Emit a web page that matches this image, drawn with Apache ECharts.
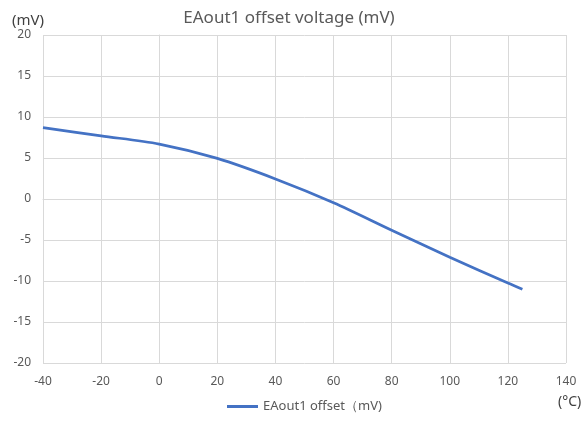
<!DOCTYPE html>
<html>
<head>
<meta charset="utf-8">
<style>
  html, body { margin: 0; padding: 0; background: #fff; }
  #chart { width: 582px; height: 421px; }
</style>
<script src="https://cdn.jsdelivr.net/npm/echarts@6/dist/echarts.min.js"></script>
</head>
<body>
<div id="chart"></div>
<script>
// Temperature (°C) and EAout1 offset voltage (mV)
const temperatures = [-40, -20, 0, 20, 40, 60, 80, 100, 120, 125];
const offsetMv = [8.7, 7.7, 6.7, 4.95, 2.45, -0.45, -3.8, -7.1, -10.25, -11.0];
const seriesName = 'EAout1 offset（mV)';

const FONT = '"Noto Sans", "Open Sans", sans-serif';
const TEXT_COLOR = '#595959';
const GRID_COLOR = '#d9d9d9';

const chart = echarts.init(document.getElementById('chart'), null, { renderer: 'canvas' });

chart.setOption({
  animation: false,
  backgroundColor: '#ffffff',
  title: [
    {
      text: 'EAout1 offset voltage (mV)',
      left: 284, top: 5, textAlign: 'center',
      textStyle: { fontFamily: FONT, fontSize: 17, fontWeight: 'normal', color: TEXT_COLOR }
    },
    {
      text: '(mV)',
      left: 7, top: 8,
      textStyle: { fontFamily: FONT, fontSize: 15, fontWeight: 'normal', color: '#404040' }
    },
    {
      text: '(°C)',
      left: 553, top: 390,
      textStyle: { fontFamily: FONT, fontSize: 14, fontWeight: 'normal', color: '#404040' }
    }
  ],
  legend: {
    bottom: 3, left: 222,
    itemWidth: 31, itemHeight: 3, itemGap: 4,
    icon: 'rect',
    textStyle: { fontFamily: FONT, fontSize: 13, color: TEXT_COLOR },
    data: [seriesName]
  },
  grid: { left: 43, right: 16, top: 35, bottom: 58, containLabel: false },
  xAxis: {
    type: 'value', min: -40, max: 140, interval: 20,
    axisLine: { show: true, lineStyle: { color: GRID_COLOR } },
    axisTick: { show: false },
    axisLabel: { color: TEXT_COLOR, fontFamily: FONT, fontSize: 12, margin: 13 },
    splitLine: { show: true, lineStyle: { color: GRID_COLOR, width: 1 } }
  },
  yAxis: {
    type: 'value', min: -20, max: 20, interval: 5,
    axisLine: { show: true, lineStyle: { color: GRID_COLOR } },
    axisTick: { show: false },
    axisLabel: { color: TEXT_COLOR, fontFamily: FONT, fontSize: 12, margin: 12 },
    splitLine: { show: true, lineStyle: { color: GRID_COLOR, width: 1 } }
  },
  series: [
    {
      name: seriesName,
      type: 'line',
      data: temperatures.map((t, i) => [t, offsetMv[i]]),
      smooth: 0.3,
      showSymbol: false,
      symbol: 'none',
      lineStyle: { color: '#4472C4', width: 2.75 },
      itemStyle: { color: '#4472C4' }
    }
  ]
});
</script>
</body>
</html>
